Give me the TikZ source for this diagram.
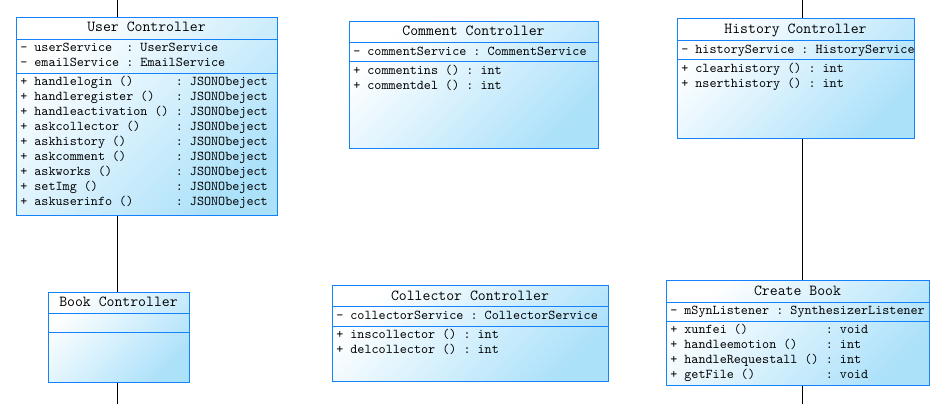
\documentclass[tikz,border=0pt]{standalone}
\usepackage{fontspec}
\usetikzlibrary{fit}
\definecolor{boxblue}{RGB}{20,130,250}
\definecolor{fillblue}{RGB}{172,225,250}
\frenchspacing
\begin{document}
\begin{tikzpicture}[x=0.75pt,y=-0.75pt,
  cbox/.style={draw=boxblue, line width=0.75pt, inner sep=0pt, shading=axis, top color=white, bottom color=fillblue, shading angle=45},
  sepline/.style={draw=boxblue, line width=0.75pt},
  conn/.style={draw=black, line width=0.75pt},
  ctitle/.style={anchor=base, inner sep=0pt, font=\fontsize{11.5}{13}\selectfont\ttfamily},
  crow/.style={anchor=base west, inner sep=0pt, font=\fontsize{10.1}{11.25}\selectfont\ttfamily}]
\useasboundingbox (0,0) rectangle (949,404);

% ---------- boxes ----------
\node[cbox, fit={(16,17) (277,215)}] (user) {};
\node[cbox, fit={(349,21) (598,148)}] (comment) {};
\node[cbox, fit={(677,18) (914,138)}] (history) {};
\node[cbox, fit={(48,292) (189,382)}] (book) {};
\node[cbox, fit={(332,285) (608,381)}] (collector) {};
\node[cbox, fit={(666,280) (929,385)}] (create) {};

% ---------- separators ----------
\draw[sepline] (user.west |- 0,39.3) -- (user.east |- 0,39.3);
\draw[sepline] (user.west |- 0,73.3) -- (user.east |- 0,73.3);
\draw[sepline] (comment.west |- 0,42.7) -- (comment.east |- 0,42.7);
\draw[sepline] (comment.west |- 0,61.7) -- (comment.east |- 0,61.7);
\draw[sepline] (history.west |- 0,40.3) -- (history.east |- 0,40.3);
\draw[sepline] (history.west |- 0,59.3) -- (history.east |- 0,59.3);
\draw[sepline] (book.west |- 0,313.3) -- (book.east |- 0,313.3);
\draw[sepline] (book.west |- 0,332.3) -- (book.east |- 0,332.3);
\draw[sepline] (collector.west |- 0,306.7) -- (collector.east |- 0,306.7);
\draw[sepline] (collector.west |- 0,326.7) -- (collector.east |- 0,326.7);
\draw[sepline] (create.west |- 0,302.3) -- (create.east |- 0,302.3);
\draw[sepline] (create.west |- 0,321.7) -- (create.east |- 0,321.7);

% ---------- titles ----------
\node[ctitle] (userT) at (146.5,31.8) {User Controller};
\node[ctitle] (commentT) at (473.5,35.8) {Comment Controller};
\node[ctitle] (historyT) at (795.5,33.5) {History Controller};
\node[ctitle] (bookT) at (118.5,306.5) {Book Controller};
\node[ctitle] (collectorT) at (470,300.2) {Collector Controller};
\node[ctitle] (createT) at (797.5,295.5) {Create Book};

% ---------- User Controller ----------
\node[crow] (ua1) at (20,51.7) {- userService~~: UserService};
\node[crow] (ua2) at (20,66.7) {- emailService : EmailService};
\foreach \t [count=\i] in {
  + handlelogin ()~~~~~~: JSONObeject,
  + handleregister ()~~~: JSONObeject,
  + handleactivation ()~: JSONObeject,
  + askcollector ()~~~~~: JSONObeject,
  + askhistory ()~~~~~~~: JSONObeject,
  + askcomment ()~~~~~~~: JSONObeject,
  + askworks ()~~~~~~~~~: JSONObeject,
  + setImg ()~~~~~~~~~~~: JSONObeject,
  + askuserinfo ()~~~~~~: JSONObeject}
  \node[crow] (um\i) at (20,70.7+15*\i) {\t};

% ---------- Comment Controller ----------
\node[crow] (ca1) at (353,55) {- commentService : CommentService};
\node[crow] (cm1) at (353,74) {+ commentins () : int};
\node[crow] (cm2) at (353,89) {+ commentdel () : int};

% ---------- History Controller ----------
\node[crow] (ha1) at (681,53.3) {- historyService : HistoryService};
\node[crow] (hm1) at (681,72.3) {+ clearhistory () : int};
\node[crow] (hm2) at (681,87.3) {+ nserthistory () : int};

% ---------- Collector Controller ----------
\node[crow] (la1) at (336,319.7) {- collectorService : CollectorService};
\node[crow] (lm1) at (336,338.5) {+ inscollector () : int};
\node[crow] (lm2) at (336,353.5) {+ delcollector () : int};

% ---------- Create Book ----------
\node[crow] (ka1) at (670,314.7) {- mSynListener : SynthesizerListener};
\foreach \t [count=\i] in {
  + xunfei ()~~~~~~~~~~~: void,
  + handleemotion ()~~~~: int,
  + handleRequestall ()~: int,
  + getFile ()~~~~~~~~~~: void}
  \node[crow] (km\i) at (670,318.3+15*\i) {\t};

% ---------- connectors ----------
\coordinate (topL) at (117,0);
\coordinate (botL) at (117,404);
\coordinate (topR) at (802,0);
\coordinate (botR) at (802,404);
\draw[conn] (topL) -- (topL |- user.north);
\draw[conn] (user.south -| topL) -- (book.north -| topL);
\draw[conn] (book.south -| botL) -- (botL);
\draw[conn] (topR) -- (topR |- history.north);
\draw[conn] (history.south -| topR) -- (create.north -| topR);
\draw[conn] (create.south -| botR) -- (botR);
\end{tikzpicture}
\end{document}
